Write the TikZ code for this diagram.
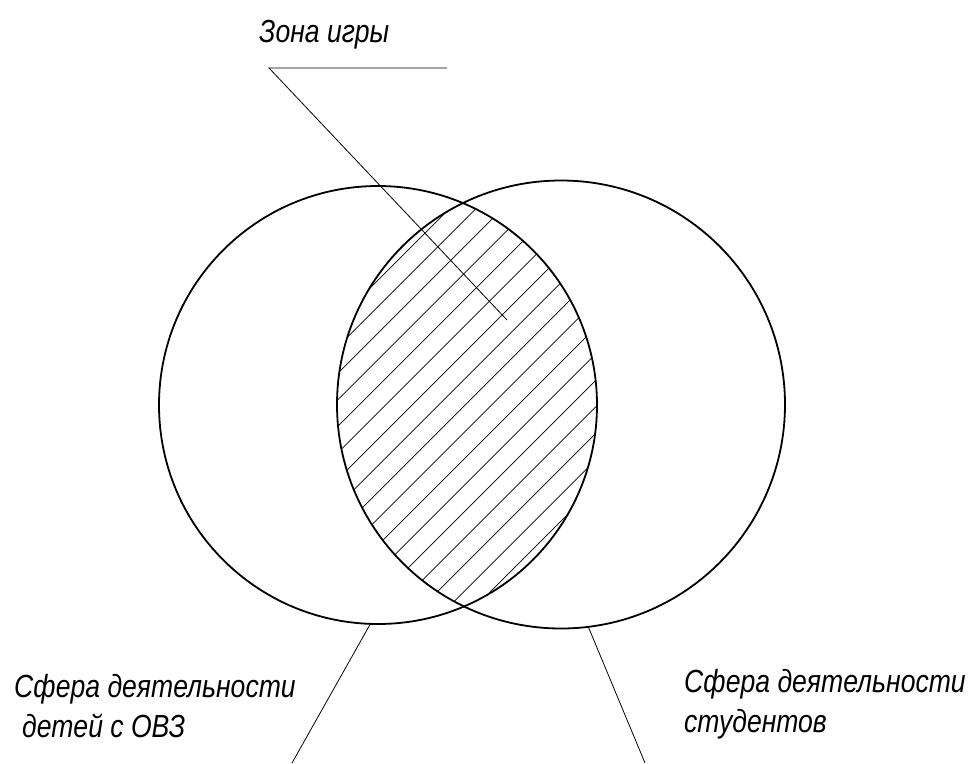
\documentclass[tikz,border=0pt]{standalone}
\usepackage{fontspec}
\newfontfamily\gost[FakeStretch=0.83]{Liberation Sans}
\begin{document}
\begin{tikzpicture}[x=1pt,y=-1pt,
  ring/.style={circle,draw,line width=1.8pt,inner sep=0pt,outer sep=0pt},
  thin/.style={line width=0.8pt},
  hatch/.style={line width=0.7pt},
  lbl/.style={inner sep=0pt,anchor=base west,font={\gost\itshape\fontsize{32}{38}\selectfont}}]
\fill[white] (0,0) rectangle (969,763);
\useasboundingbox (0,0) rectangle (969,763);
% hatching of the intersection
\begin{scope}
  \clip (378,405) circle (219pt);
  \clip (561,404.5) circle (224pt);
  \foreach \k in {-3,...,17}{
    \pgfmathsetmacro{\c}{711+26.5*\k}
    \draw[hatch] (\c-700,700) -- (\c-100,100);
  }
\end{scope}
% circles
\node[ring,minimum size=438pt] (L) at (378,405) {};
\node[ring,minimum size=448pt] (R) at (561,404.5) {};
% labels
\node[lbl] (zona) at (259,42) {Зона игры};
\node[lbl] (la) at (14,697) {Сфера деятельности};
\node[lbl] (lb) at (22,737) {детей с ОВЗ};
\node[lbl] (ra) at (684,692) {Сфера деятельности};
\node[lbl] (rb) at (684,732) {студентов};
% leaders
\coordinate (zh) at (447,68);
\coordinate (zk) at (269,68);
\coordinate (zt) at (507,320);
\draw[thin] (zh) -- (zk) -- (zt);
\coordinate (lend) at (292,763);
\coordinate (rend) at (645,763);
\draw[thin] (L.-92.9) -- (lend);
\draw[thin] (R.-83.9) -- (rend);
\end{tikzpicture}
\end{document}
